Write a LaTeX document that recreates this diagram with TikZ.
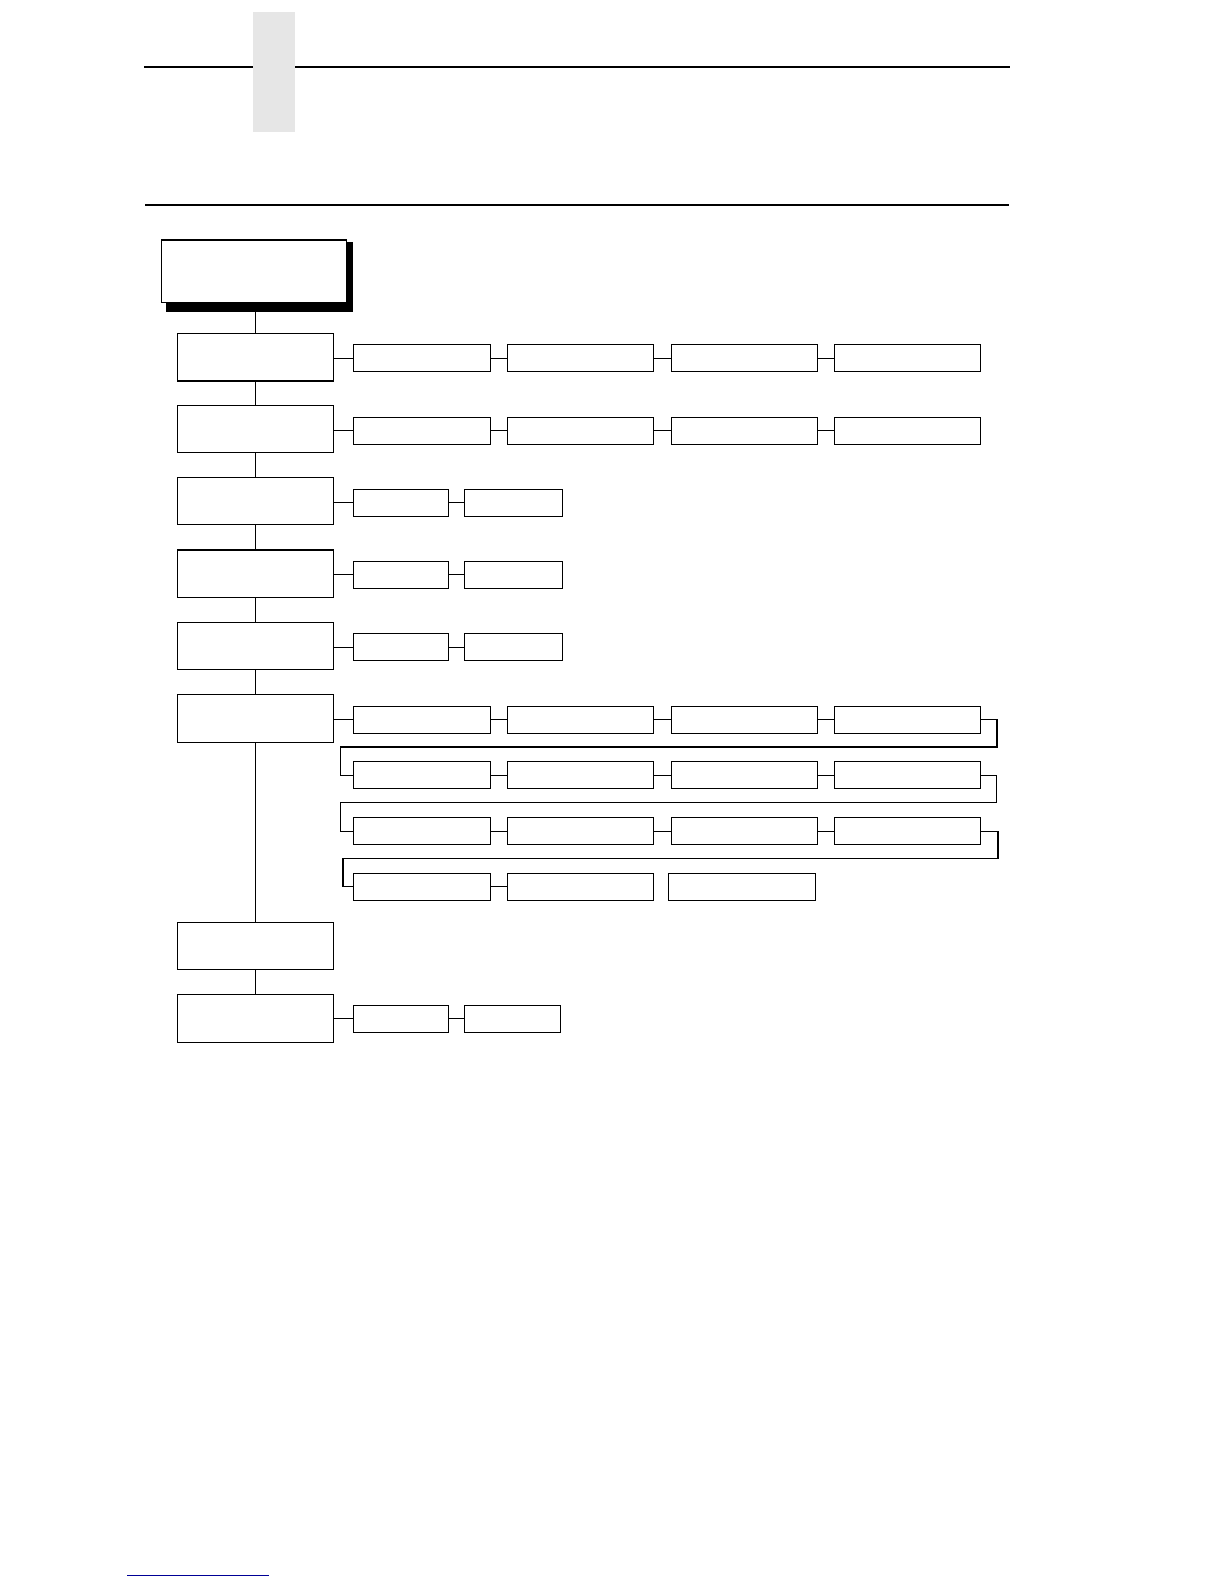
\documentclass[tikz,border=0pt]{standalone}
\definecolor{tabgray}{RGB}{230,230,230}
\definecolor{linkblue}{RGB}{0,0,150}

\begin{document}
\begin{tikzpicture}[x=1pt, y=-1pt, line width=1.1pt,
    menu/.style={draw, fill=white, inner sep=0pt, minimum width=156.4pt, minimum height=47.5pt},
    sub/.style={draw, inner sep=0pt, minimum height=27pt},
    first/.style={sub, minimum width=137.4pt},
    wide/.style={sub, minimum width=146pt},
    small/.style={sub, minimum width=96pt}]
      \useasboundingbox (0,0) rectangle (1224,1584);

      % page header
      \draw[line width=2pt] (144,66.7) -- (1010,66.7);
      \fill[tabgray] (253.3,12) rectangle (295,131.7);
      \draw[line width=1.2pt] (145,205) -- (1009,205);

      % title box with its shadow
      \node[fill=black, inner sep=0pt, minimum width=186.7pt, minimum height=69.7pt] (TS) at (259.35,276.85) {};
      \node[menu, minimum width=185.4pt, minimum height=62.3pt] (T) at (254,271.15) {};

      % main column
      \node[menu] (M1) at (255.5,357.2)  {};
      \node[menu] (M2) at (255.5,429)    {};
      \node[menu] (M3) at (255.5,501.1)  {};
      \node[menu] (M4) at (255.5,573.7)  {};
      \node[menu] (M5) at (255.5,646)    {};
      \node[menu] (M6) at (255.5,718.3)  {};
      \node[menu] (M7) at (255.5,946)    {};
      \node[menu] (M8) at (255.5,1018.3) {};

      % rows of choices
      \node[first] (S11) at (422,358.2)    {};
      \node[wide]  (S12) at (580.35,358.2) {};
      \node[wide]  (S13) at (744.35,358.2) {};
      \node[wide]  (S14) at (907.4,358.2)  {};

      \node[first] (S21) at (422,430.8)    {};
      \node[wide]  (S22) at (580.35,430.8) {};
      \node[wide]  (S23) at (744.35,430.8) {};
      \node[wide]  (S24) at (907.4,430.8)  {};

      \node[small, minimum width=95pt] (S31) at (400.8,502.8) {};
      \node[small, minimum width=98pt] (S32) at (513.3,502.8) {};

      \node[small, minimum width=95pt] (S41) at (400.8,574.8) {};
      \node[small, minimum width=98pt] (S42) at (513.3,574.8) {};

      \node[small, minimum width=95pt] (S51) at (400.8,647.2) {};
      \node[small, minimum width=98pt] (S52) at (513.3,647.2) {};

      \node[first] (S6a1) at (422,719.6)    {};
      \node[wide]  (S6a2) at (580.35,719.6) {};
      \node[wide]  (S6a3) at (744.35,719.6) {};
      \node[wide]  (S6a4) at (907.4,719.6)  {};

      \node[first] (S6b1) at (422,775.2)    {};
      \node[wide]  (S6b2) at (580.35,775.2) {};
      \node[wide]  (S6b3) at (744.35,775.2) {};
      \node[wide]  (S6b4) at (907.4,775.2)  {};

      \node[first] (S6c1) at (422,831.2)    {};
      \node[wide]  (S6c2) at (580.35,831.2) {};
      \node[wide]  (S6c3) at (744.35,831.2) {};
      \node[wide]  (S6c4) at (907.4,831.2)  {};

      \node[first] (S6d1) at (422,886.8)    {};
      \node[wide]  (S6d2) at (580.35,886.8) {};
      \node[wide, minimum width=147.4pt] (S6d3) at (742,886.8) {};

      \node[small, minimum width=95pt] (S81) at (400.8,1018.8) {};
      \node[small, minimum width=96pt] (S82) at (512.3,1018.8) {};

      % wrap points between the rows of M6
      \coordinate (W1) at (340.4,747);
      \coordinate (W2) at (340.4,802.3);
      \coordinate (W3) at (343,858.3);

      % main column links
      \draw (M1.north |- T.south) -- (M1.north);
      \draw (M1) -- (M2);
      \draw (M2) -- (M3);
      \draw (M3) -- (M4);
      \draw (M4) -- (M5);
      \draw (M5) -- (M6);
      \draw (M6) -- (M7);
      \draw (M7) -- (M8);

      % links to the choices
      \draw (M1.east |- S11) -- (S11);  \draw (S11) -- (S12);  \draw (S12) -- (S13);  \draw (S13) -- (S14);
      \draw (M2.east |- S21) -- (S21);  \draw (S21) -- (S22);  \draw (S22) -- (S23);  \draw (S23) -- (S24);
      \draw (M3.east |- S31) -- (S31);  \draw (S31) -- (S32);
      \draw (M4.east |- S41) -- (S41);  \draw (S41) -- (S42);
      \draw (M5.east |- S51) -- (S51);  \draw (S51) -- (S52);
      \draw (M6.east |- S6a1) -- (S6a1);  \draw (S6a1) -- (S6a2);  \draw (S6a2) -- (S6a3);  \draw (S6a3) -- (S6a4);
      \draw (S6a4.east) -- ++(16,0) |- (W1) |- (S6b1.west);
      \draw (S6b1) -- (S6b2);  \draw (S6b2) -- (S6b3);  \draw (S6b3) -- (S6b4);
      \draw (S6b4.east) -- ++(15.5,0) |- (W2) |- (S6c1.west);
      \draw (S6c1) -- (S6c2);  \draw (S6c2) -- (S6c3);  \draw (S6c3) -- (S6c4);
      \draw (S6c4.east) -- ++(17,0) |- (W3) |- (S6d1.west);
      \draw (S6d1) -- (S6d2);
      \draw (M8.east |- S81) -- (S81);  \draw (S81) -- (S82);

      % footer link line
      \draw[linkblue, line width=1pt] (127,1575) -- (269,1575);
    \end{tikzpicture}
\end{document}
